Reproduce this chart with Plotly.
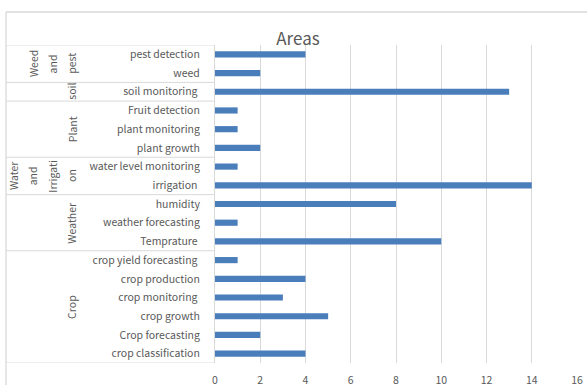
import plotly.graph_objects as go

# ---- data (bottom to top) ----
groups = ["Crop", "Weather", "Water and Irrigation", "Plant", "soil", "Weed and pest"]
group_lines = [["Crop"], ["Weather"], ["Water", "and", "Irrigati", "on"], ["Plant"], ["soil"], ["Weed", "and", "pest"]]
group_items = [
    ["crop classification", "Crop forecasting", "crop growth", "crop monitoring ", "crop production", "crop yield forecasting "],
    ["Temprature ", "weather forecasting", "humidity"],
    ["irrigation ", "water level monitoring"],
    ["plant growth", "plant monitoring", "Fruit detection"],
    ["soil monitoring "],
    ["weed", "pest detection"],
]
group_values = [
    [4, 2, 5, 3, 4, 1],
    [10, 1, 8],
    [14, 1],
    [2, 1, 1],
    [13],
    [2, 4],
]
x_ticks = [0, 2, 4, 6, 8, 10, 12, 14, 16]

FONT = "Noto Sans CJK KR"
TXT = "#595959"
LINE = "#D9D9D9"
BAR = "#4A7EBB"
FS = 10.5

W, H = 587, 385
L, R, T, B = 215, 10, 45, 22
PW = W - L - R
PH = H - T - B


def disp(s):
    st = s.rstrip()
    return st + "\u00a0" * (len(s) - len(st))


cats, vals = [], []
for items, vs in zip(group_items, group_values):
    cats += [disp(s) for s in items]
    vals += vs

fig = go.Figure(go.Bar(
    x=vals, y=cats, orientation="h", marker=dict(color=BAR, line=dict(width=0)),
    width=0.33,
))


def px_x(px):
    return (px - L) / PW


def px_y(py):
    return (H - B - py) / PH


shapes = []
annotations = []
idx = 0
bounds = [-0.5]
for gi, items in enumerate(group_items):
    start = idx
    idx += len(items)
    bounds.append(idx - 0.5)
    center = (start + idx - 1) / 2
    lines = group_lines[gi]
    n = len(lines)
    for k, ln in enumerate(lines):
        cx = 72 - 19.3 * (n - 1 - k)
        annotations.append(dict(
            text=ln, x=px_x(cx), xref="paper", y=center, yref="y",
            xanchor="center", yanchor="middle", textangle=-90, showarrow=False,
            font=dict(family=FONT, size=FS, color=TXT),
        ))
for b in bounds:
    shapes.append(dict(type="line", xref="paper", yref="y", x0=px_x(6), x1=0, y0=b, y1=b,
                       line=dict(color=LINE, width=1)))
shapes.append(dict(type="line", xref="paper", yref="paper", x0=px_x(6), x1=px_x(600),
                   y0=px_y(12), y1=px_y(12), line=dict(color=LINE, width=1.3)))
shapes.append(dict(type="line", xref="paper", yref="paper", x0=px_x(6), x1=px_x(6),
                   y0=px_y(12), y1=px_y(400), line=dict(color=LINE, width=1.3)))

fig.update_layout(
    width=W, height=H,
    margin=dict(l=L, r=R, t=T, b=B, autoexpand=False),
    paper_bgcolor="white", plot_bgcolor="white",
    font=dict(family=FONT, size=FS, color=TXT),
    title=dict(text="Areas", x=298 / W, xanchor="center", y=1 - 39 / H, yanchor="middle",
               font=dict(family=FONT, size=17, color=TXT)),
    showlegend=False,
    shapes=shapes,
    annotations=annotations,
    xaxis=dict(range=[0, 16], tickvals=x_ticks, showgrid=True, gridcolor=LINE, gridwidth=1,
               zeroline=False, showline=False, ticks="", ticklabelstandoff=9, automargin=False,
               tickfont=dict(family=FONT, size=FS, color=TXT), fixedrange=True),
    yaxis=dict(type="category", categoryorder="array", categoryarray=cats,
               range=[-0.5, len(cats) - 0.5], showgrid=False, zeroline=False, automargin=False,
               showline=True, linecolor=LINE, linewidth=1, ticks="", ticklabelstandoff=12,
               tickfont=dict(family=FONT, size=FS, color=TXT), fixedrange=True),
)

fig.write_html("out.html")
